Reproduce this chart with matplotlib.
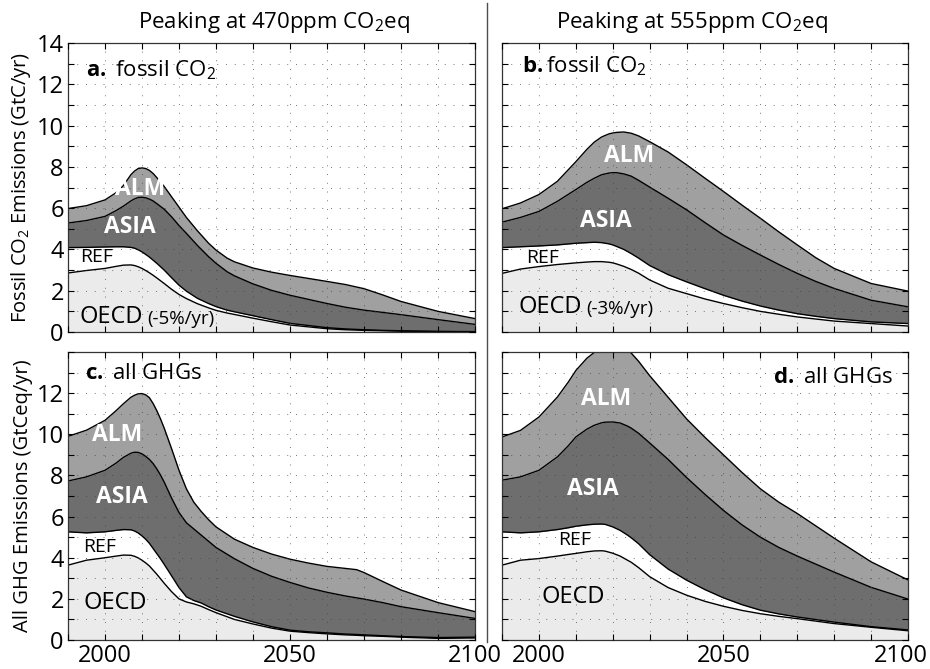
# regional emission pathways, 4 panels (fossil CO2 / all GHGs, two peak levels)

import matplotlib
matplotlib.use('Agg')
import matplotlib.pyplot as plt
from matplotlib.lines import Line2D
from matplotlib.transforms import ScaledTranslation
import numpy as np

params = {'font.family': 'Open Sans',
          'mathtext.fontset': 'custom',
          'mathtext.rm': 'Open Sans',
          'mathtext.it': 'Open Sans:italic',
          'mathtext.bf': 'Open Sans:bold',
          'font.size': 15}
plt.rcParams.update(params)

# stacked tops: OECD, OECD+REF, +ASIA, +ALM

# a. fossil CO2, 470ppm
yrs_a = [1990, 1995, 2000, 2003, 2005, 2007, 2008, 2009, 2010, 2011, 2012,
         2013, 2014, 2016, 2018, 2020, 2022, 2025, 2028, 2030, 2033, 2035,
         2040, 2045, 2050, 2060, 2065, 2070, 2075, 2080, 2090, 2100]
a_oecd = [2.86, 2.98, 3.08, 3.18, 3.24, 3.25, 3.22, 3.16, 3.08, 2.98, 2.87,
          2.75, 2.62, 2.35, 2.07, 1.82, 1.62, 1.37, 1.17, 1.05, 0.92, 0.85,
          0.67, 0.50, 0.34, 0.16, 0.11, 0.08, 0.06, 0.04, 0.02, 0.01]
a_ref = [4.09, 4.10, 4.12, 4.13, 4.13, 4.10, 4.06, 3.98, 3.88, 3.76, 3.63,
         3.48, 3.33, 3.00, 2.63, 2.27, 1.98, 1.63, 1.38, 1.23, 1.06, 0.98,
         0.79, 0.60, 0.42, 0.21, 0.15, 0.11, 0.08, 0.06, 0.03, 0.02]
a_asia = [5.28, 5.40, 5.60, 5.88, 6.10, 6.35, 6.45, 6.52, 6.53, 6.50, 6.44,
          6.35, 6.22, 5.95, 5.58, 5.16, 4.78, 4.19, 3.65, 3.33, 2.92, 2.72,
          2.33, 2.02, 1.78, 1.38, 1.20, 1.06, 0.95, 0.84, 0.60, 0.37]
a_alm = [5.98, 6.12, 6.40, 6.75, 7.10, 7.62, 7.80, 7.92, 7.95, 7.92, 7.83,
         7.68, 7.48, 7.05, 6.55, 6.05, 5.55, 4.90, 4.30, 3.97, 3.58, 3.40,
         3.10, 2.90, 2.74, 2.45, 2.30, 2.10, 1.80, 1.48, 1.00, 0.65]

# b. fossil CO2, 555ppm
yrs_b = [1990, 1995, 2000, 2005, 2010, 2013, 2015, 2017, 2019, 2020, 2021,
         2023, 2025, 2027, 2030, 2035, 2040, 2045, 2050, 2055, 2060, 2065,
         2070, 2075, 2080, 2090, 2100]
b_oecd = [2.84, 3.05, 3.17, 3.27, 3.35, 3.39, 3.41, 3.41, 3.38, 3.35, 3.30,
          3.18, 3.03, 2.85, 2.52, 2.12, 1.86, 1.60, 1.38, 1.18, 1.00, 0.86,
          0.73, 0.63, 0.53, 0.41, 0.29]
b_ref = [4.09, 4.13, 4.17, 4.22, 4.30, 4.33, 4.35, 4.33, 4.27, 4.22, 4.15,
         4.00, 3.80, 3.58, 3.22, 2.78, 2.43, 2.10, 1.78, 1.50, 1.26, 1.06,
         0.89, 0.76, 0.65, 0.49, 0.41]
b_asia = [5.32, 5.55, 5.84, 6.33, 6.90, 7.25, 7.45, 7.62, 7.70, 7.72, 7.72,
          7.66, 7.55, 7.35, 7.02, 6.48, 5.92, 5.30, 4.70, 4.20, 3.73, 3.27,
          2.84, 2.45, 2.11, 1.54, 1.22]
b_alm = [5.97, 6.25, 6.66, 7.30, 8.25, 8.85, 9.20, 9.45, 9.60, 9.64, 9.67,
         9.69, 9.63, 9.50, 9.22, 8.72, 8.10, 7.45, 6.81, 6.15, 5.51, 4.85,
         4.22, 3.60, 3.08, 2.35, 1.98]

# c. all GHGs, 470ppm
yrs_c = [1990, 1995, 2000, 2003, 2005, 2007, 2008, 2009, 2010, 2011, 2012,
         2013, 2014, 2015, 2016, 2018, 2020, 2022, 2024, 2026, 2028, 2030,
         2035, 2040, 2045, 2050, 2055, 2060, 2065, 2068, 2070, 2075, 2080,
         2090, 2100]
c_oecd = [3.64, 3.88, 4.00, 4.08, 4.13, 4.12, 4.07, 3.99, 3.88, 3.75, 3.60,
          3.40, 3.20, 2.98, 2.76, 2.35, 2.00, 1.85, 1.76, 1.64, 1.48, 1.33,
          1.00, 0.78, 0.58, 0.43, 0.36, 0.30, 0.25, 0.23, 0.21, 0.18, 0.14,
          0.08, 0.10]
c_ref = [5.26, 5.21, 5.26, 5.33, 5.37, 5.36, 5.30, 5.20, 5.06, 4.90, 4.70,
         4.45, 4.20, 3.95, 3.68, 3.12, 2.55, 2.10, 1.92, 1.80, 1.62, 1.46,
         1.15, 0.88, 0.65, 0.48, 0.40, 0.35, 0.29, 0.27, 0.25, 0.21, 0.17,
         0.12, 0.14]
c_asia = [7.73, 7.93, 8.25, 8.60, 8.88, 9.08, 9.13, 9.12, 9.05, 8.93, 8.78,
          8.58, 8.32, 8.02, 7.68, 6.90, 6.20, 5.70, 5.40, 5.10, 4.80, 4.50,
          3.95, 3.48, 3.10, 2.80, 2.53, 2.32, 2.14, 2.05, 1.99, 1.82, 1.62,
          1.33, 1.05]
c_alm = [9.90, 10.20, 10.68, 11.15, 11.49, 11.80, 11.90, 11.97, 11.98, 11.92,
         11.78, 11.50, 11.15, 10.75, 10.30, 9.30, 8.25, 7.35, 6.70, 6.25,
         5.85, 5.50, 4.90, 4.50, 4.18, 3.93, 3.74, 3.58, 3.48, 3.42, 3.28,
         2.85, 2.43, 1.82, 1.38]

# d. all GHGs, 555ppm
yrs_d = [1990, 1995, 2000, 2005, 2008, 2010, 2013, 2015, 2017, 2018, 2020,
         2022, 2024, 2025, 2027, 2030, 2035, 2040, 2045, 2050, 2055, 2060,
         2065, 2070, 2080, 2090, 2100]
d_oecd = [3.64, 3.88, 3.96, 4.08, 4.16, 4.21, 4.29, 4.33, 4.34, 4.32, 4.22,
          4.08, 3.88, 3.78, 3.52, 3.08, 2.55, 2.18, 1.88, 1.64, 1.44, 1.28,
          1.15, 1.04, 0.80, 0.62, 0.45]
d_ref = [5.26, 5.21, 5.26, 5.37, 5.46, 5.53, 5.60, 5.63, 5.64, 5.62, 5.50,
         5.33, 5.10, 4.97, 4.68, 4.15, 3.45, 2.91, 2.45, 2.05, 1.72, 1.45,
         1.27, 1.12, 0.87, 0.65, 0.49]
d_asia = [7.77, 7.93, 8.25, 8.90, 9.45, 9.87, 10.25, 10.44, 10.56, 10.59,
          10.60, 10.55, 10.40, 10.30, 10.05, 9.58, 8.78, 7.90, 7.08, 6.30,
          5.60, 5.00, 4.50, 4.08, 3.30, 2.56, 1.99]
d_alm = [9.87, 10.19, 10.84, 11.81, 12.55, 13.10, 13.70, 13.98, 14.20, 14.28,
         14.35, 14.30, 14.10, 13.95, 13.55, 12.85, 11.80, 10.75, 9.85, 9.00,
         8.15, 7.35, 6.70, 6.15, 4.95, 3.80, 2.92]

xticks = list(range(1990, 2101, 10))
xtick_labels = ['', '2000', '', '', '', '', '2050', '', '', '', '', '2100']
yticks = list(range(0, 15))
ytick_labels_top = ['0', '', '2', '', '4', '', '6', '', '8', '', '10', '', '12', '', '14']
ytick_labels_bot = ['0', '', '2', '', '4', '', '6', '', '8', '', '10', '', '12', '', '']

col_oecd = '#ebebeb'
col_ref = 'white'
col_asia = '#6e6e6e'
col_alm = '#a0a0a0'
lw = 1.0


def draw_panel(ax, yrs, oecd, ref, asia, alm):
    yrs = np.array(yrs)
    ax.fill_between(yrs, 0, oecd, color=col_oecd, lw=0)
    ax.fill_between(yrs, oecd, ref, color=col_ref, lw=0)
    ax.fill_between(yrs, ref, asia, color=col_asia, lw=0)
    ax.fill_between(yrs, asia, alm, color=col_alm, lw=0)
    for top in [oecd, ref, asia, alm]:
        ax.plot(yrs, top, color='k', linewidth=lw, solid_joinstyle='round')
    ax.set_xlim(1990, 2100)
    ax.set_ylim(0, 14)
    ax.set_xticks(xticks)
    ax.set_yticks(yticks)
    ax.set_axisbelow(False)
    ax.grid(True, linestyle=(0, (1, 8)), color='0.25', linewidth=0.7, alpha=0.7)
    ax.tick_params(direction='in', top=True, right=True, length=4, width=0.8,
                   labelsize=17, pad=3)
    for s in ax.spines.values():
        s.set_linewidth(0.9)
        s.set_color('0.2')


fig = plt.figure(figsize=(9.3, 6.69), dpi=100)
ax_a = fig.add_axes([0.0731, 0.5037, 0.4377, 0.4320])
ax_b = fig.add_axes([0.5398, 0.5037, 0.4366, 0.4320])
ax_c = fig.add_axes([0.0731, 0.0433, 0.4377, 0.4305])
ax_d = fig.add_axes([0.5398, 0.0433, 0.4366, 0.4305])

draw_panel(ax_a, yrs_a, a_oecd, a_ref, a_asia, a_alm)
draw_panel(ax_b, yrs_b, b_oecd, b_ref, b_asia, b_alm)
draw_panel(ax_c, yrs_c, c_oecd, c_ref, c_asia, c_alm)
draw_panel(ax_d, yrs_d, d_oecd, d_ref, d_asia, d_alm)

for ax in [ax_a, ax_b]:
    ax.set_xticklabels([''] * len(xticks))
for ax in [ax_c, ax_d]:
    ax.set_xticklabels(xtick_labels)
ax_a.set_yticklabels(ytick_labels_top)
ax_c.set_yticklabels(ytick_labels_bot)
ax_b.set_yticklabels([''] * len(yticks))
ax_d.set_yticklabels([''] * len(yticks))

# keep the last year label of panel d inside the picture
lbl = ax_d.get_xticklabels()[-1]
lbl.set_transform(lbl.get_transform() + ScaledTranslation(-5 / 72., 0, fig.dpi_scale_trans))

ax_a.set_ylabel('Fossil CO$_2$ Emissions (GtC/yr)', fontsize=14.5, labelpad=3)
ax_c.set_ylabel('All GHG Emissions (GtCeq/yr)', fontsize=14.5, labelpad=3)

# column titles and separator
fig.text(0.2946, 0.967, 'Peaking at 470ppm CO$_2$eq', ha='center', va='center', fontsize=16)
fig.text(0.744, 0.967, 'Peaking at 555ppm CO$_2$eq', ha='center', va='center', fontsize=16)
fig.add_artist(Line2D([0.5237, 0.5237], [0.041, 0.996], transform=fig.transFigure,
                      color='0.3', linewidth=1.0))

# panel captions
ax_a.text(1994.9, 12.68, r'$\mathbf{a.}$ fossil CO$_2$', va='center', fontsize=16)
ax_b.text(1995.4, 12.9, r'$\mathbf{b.}$fossil CO$_2$', va='center', fontsize=16)
ax_c.text(1994.6, 12.94, r'$\mathbf{c.}$ all GHGs', va='center', fontsize=16)
ax_d.text(2063.3, 12.78, r'$\mathbf{d.}$ all GHGs', va='center', fontsize=16)

# region names
wtxt = dict(color='white', fontweight='bold', fontsize=16.5, ha='center', va='center')
ax_a.text(2009.6, 6.95, 'ALM', **wtxt)
ax_a.text(2006.6, 5.09, 'ASIA', **wtxt)
ax_b.text(2024.3, 8.52, 'ALM', **wtxt)
ax_b.text(2018.0, 5.36, 'ASIA', **wtxt)
ax_c.text(2003.2, 9.95, 'ALM', **wtxt)
ax_c.text(2004.5, 6.96, 'ASIA', **wtxt)
ax_d.text(2018.2, 11.73, 'ALM', **wtxt)
ax_d.text(2014.6, 7.36, 'ASIA', **wtxt)

ax_a.text(1997.7, 3.63, 'REF', ha='center', va='center', fontsize=14)
ax_b.text(2001.1, 3.57, 'REF', ha='center', va='center', fontsize=14)
ax_c.text(1998.6, 4.53, 'REF', ha='center', va='center', fontsize=14)
ax_d.text(2009.7, 4.85, 'REF', ha='center', va='center', fontsize=14)

ax_a.text(1993.0, 0.72, 'OECD', ha='left', va='center', fontsize=17)
ax_a.text(2011.3, 0.64, '(-5%/yr)', ha='left', va='center', fontsize=13.5)
ax_b.text(1994.4, 1.21, 'OECD', ha='left', va='center', fontsize=17)
ax_b.text(2012.9, 1.13, '(-3%/yr)', ha='left', va='center', fontsize=13.5)
ax_c.text(2002.7, 1.78, 'OECD', ha='center', va='center', fontsize=17)
ax_d.text(2009.2, 2.10, 'OECD', ha='center', va='center', fontsize=17)

plt.savefig('out.png', dpi=100)
